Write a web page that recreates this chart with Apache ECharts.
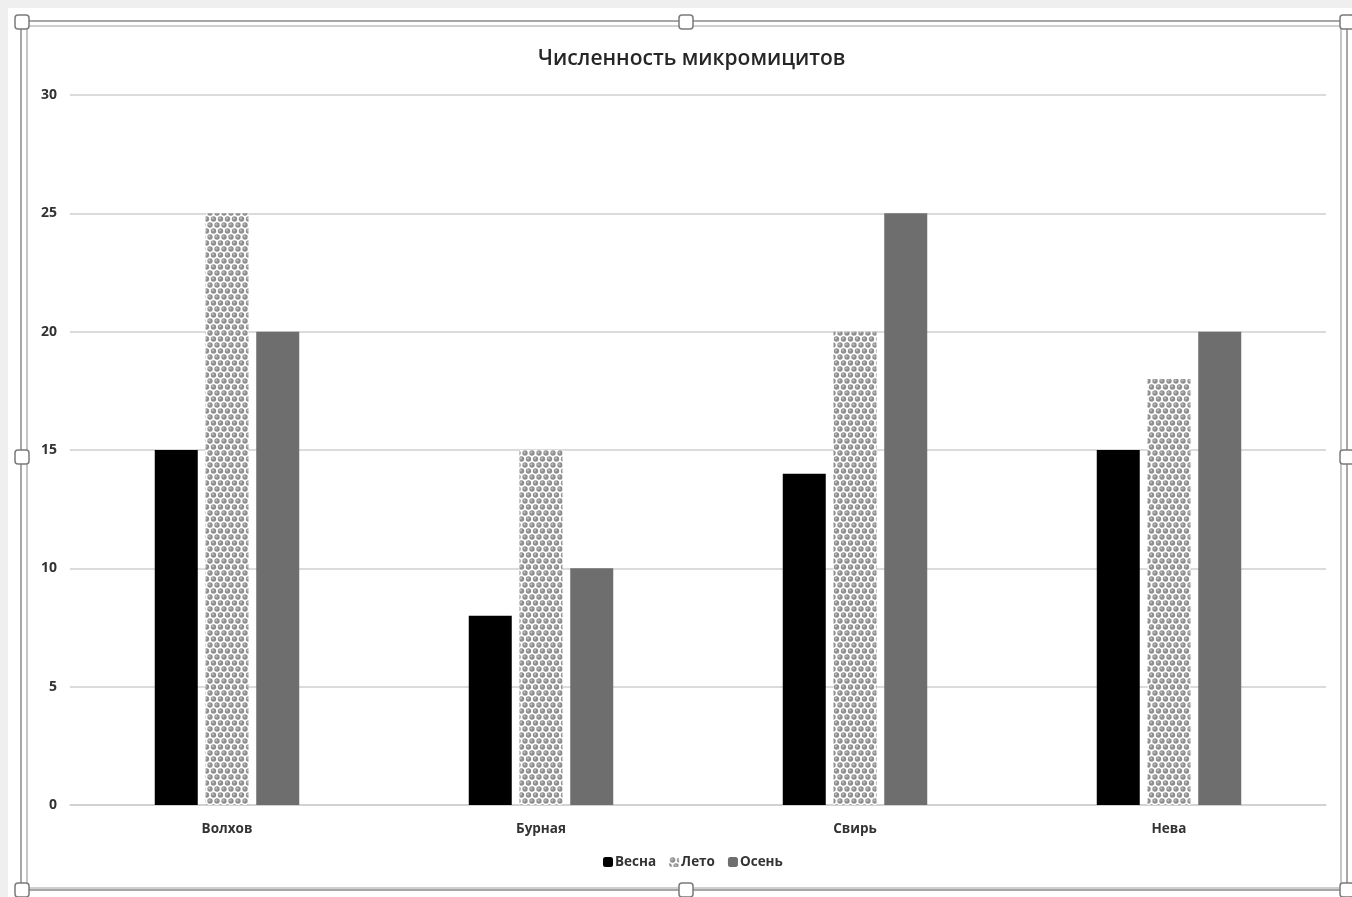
<!DOCTYPE html>
<html>
<head>
<meta charset="utf-8">
<script src="https://cdn.jsdelivr.net/npm/echarts@6/dist/echarts.min.js"></script>
<style>
html,body{margin:0;padding:0;background:#fff;}
#main{width:1352px;height:897px;}
</style>
</head>
<body>
<div id="main"></div>
<script>
const categories = ['Волхов', 'Бурная', 'Свирь', 'Нева'];
const seriesNames = ['Весна', 'Лето', 'Осень'];
const vesna = [15, 8, 14, 15];
const leto = [25, 15, 20, 18];
const osen = [20, 10, 25, 20];
const yTicks = [0, 5, 10, 15, 20, 25, 30];

function makePattern() {
  const c = document.createElement('canvas');
  c.width = 7; c.height = 12;
  const g = c.getContext('2d');
  g.fillStyle = '#ffffff';
  g.fillRect(0, 0, 7, 12);
  const pts = [[3.5, 3], [0, 9], [7, 9], [3.5, 15], [0, -3], [7, -3]];
  pts.forEach(p => {
    g.beginPath();
    g.arc(p[0], p[1], 2.7, 0, Math.PI * 2);
    g.fillStyle = '#8e8e8e';
    g.fill();
    g.beginPath();
    g.arc(p[0] - 0.6, p[1] - 0.6, 1.1, 0, Math.PI * 2);
    g.fillStyle = '#bdbdbd';
    g.fill();
  });
  return c;
}
const pattern = { image: makePattern(), repeat: 'repeat' };

const chart = echarts.init(document.getElementById('main'));

function handle(x, y) {
  return {
    type: 'rect', shape: { x: x - 7, y: y - 7, width: 14, height: 14, r: 3 },
    style: { fill: '#ffffff', stroke: '#7a7a7a', lineWidth: 1.5 }, z: 100
  };
}

chart.setOption({
  backgroundColor: '#ffffff',
  animation: false,
  title: {
    text: 'Численность микромицитов',
    left: 533, top: 44,
    textStyle: { fontFamily: 'Open Sans', fontSize: 21, fontWeight: 600, color: '#262626' }
  },
  legend: {
    bottom: 23, left: 598,
    itemWidth: 10, itemHeight: 10, itemGap: 13,
    textStyle: { fontFamily: 'Open Sans', fontSize: 13.5, fontWeight: 'bold', color: '#333', padding: [0, 0, 0, -3] },
    data: seriesNames
  },
  grid: { left: 70, right: 26, top: 95, bottom: 92, containLabel: false },
  xAxis: {
    type: 'category', data: categories,
    axisLine: { show: true, lineStyle: { color: '#cfcfcf', width: 1.5 } },
    axisTick: { show: false },
    axisLabel: { margin: 17, fontFamily: 'Open Sans', fontSize: 13.5, fontWeight: 'bold', color: '#333' }
  },
  yAxis: {
    type: 'value', min: yTicks[0], max: yTicks[yTicks.length - 1], interval: 5,
    axisLine: { show: false }, axisTick: { show: false },
    splitLine: { lineStyle: { color: '#cfcfcf', width: 1.5 } },
    axisLabel: { margin: 13, fontFamily: 'Open Sans', fontSize: 14, fontWeight: 'bold', color: '#333' }
  },
  series: [
    { name: seriesNames[0], type: 'bar', data: vesna, barWidth: 43, barGap: '18%', itemStyle: { color: '#000000' } },
    { name: seriesNames[1], type: 'bar', data: leto, barWidth: 43, barGap: '18%', itemStyle: { color: pattern } },
    { name: seriesNames[2], type: 'bar', data: osen, barWidth: 43, barGap: '18%', itemStyle: { color: '#6e6e6e' } }
  ],
  graphic: [
    { type: 'rect', shape: { x: 0, y: 0, width: 1352, height: 8 }, style: { fill: '#efefef' }, z: -1 },
    { type: 'rect', shape: { x: 0, y: 0, width: 8, height: 897 }, style: { fill: '#efefef' }, z: -1 },
    { type: 'rect', shape: { x: 21, y: 21, width: 1326, height: 869 }, style: { fill: 'none', stroke: '#8a8a8a', lineWidth: 1.5 }, z: 99 },
    { type: 'rect', shape: { x: 27, y: 26, width: 1314, height: 862 }, style: { fill: 'none', stroke: '#a0a0a0', lineWidth: 1.2 }, z: 99 },
    handle(22, 22), handle(686, 22), handle(1347, 22),
    handle(22, 457), handle(1347, 457),
    handle(22, 890), handle(686, 890), handle(1347, 890)
  ]
});
</script>
</body>
</html>
